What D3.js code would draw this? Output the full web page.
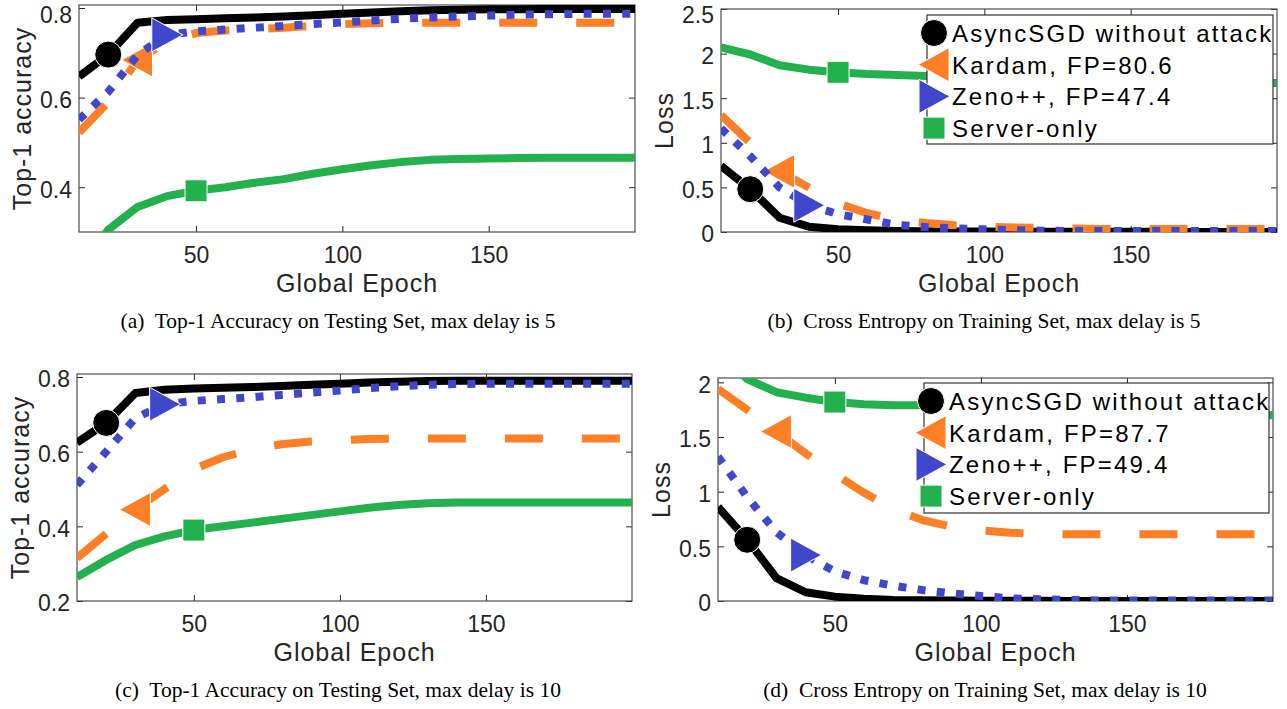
<!DOCTYPE html>
<html>
<head>
<meta charset="utf-8">
<script src="https://cdn.jsdelivr.net/npm/d3@7"></script>
<style>
  body { margin: 0; background: #fff; }
  svg { display: block; }
  .tick text { font-family: "Liberation Sans", Arial, sans-serif; font-size: 23px; fill: #262626; }
  .tick line { stroke: #262626; stroke-width: 1; }
  .axlabel { font-family: "Liberation Sans", Arial, sans-serif; font-size: 25px; fill: #262626; letter-spacing: 1px; }
  .legtext { font-family: "Liberation Sans", Arial, sans-serif; font-size: 24px; fill: #000; letter-spacing: 2.2px; }
  .caption { font-family: "Liberation Serif", "Times New Roman", serif; font-size: 21.5px; fill: #000; }
</style>
</head>
<body>
<svg width="1287" height="709"></svg>
<script>
// global epochs (x values)
var epochs = [10, 20, 30, 40, 50, 60, 70, 80, 90, 100, 110, 120, 130, 140, 150, 160, 170, 180, 190, 200];
var xTicks = [50, 100, 150];

// (a) top-1 accuracy, max delay 5
var accAsync5  = [0.647, 0.696, 0.767, 0.773, 0.775, 0.777, 0.779, 0.781, 0.784, 0.787, 0.790, 0.793, 0.795, 0.796, 0.797, 0.797, 0.798, 0.798, 0.798, 0.798];
var accKardam5 = [0.522, 0.590, 0.684, 0.725, 0.744, 0.750, 0.753, 0.756, 0.760, 0.764, 0.766, 0.767, 0.767, 0.767, 0.767, 0.767, 0.767, 0.767, 0.767, 0.767];
var accZeno5   = [0.551, 0.613, 0.695, 0.740, 0.748, 0.752, 0.756, 0.760, 0.764, 0.768, 0.772, 0.776, 0.779, 0.781, 0.783, 0.785, 0.786, 0.787, 0.787, 0.787];
var accServer5 = [0.22, 0.305, 0.356, 0.380, 0.392, 0.400, 0.410, 0.418, 0.430, 0.440, 0.449, 0.456, 0.461, 0.463, 0.464, 0.465, 0.466, 0.466, 0.466, 0.466];

// (b) cross entropy, max delay 5
var lossAsync5  = [0.74, 0.48, 0.16, 0.06, 0.03, 0.02, 0.012, 0.008, 0.006, 0.005, 0.004, 0.003, 0.003, 0.002, 0.002, 0.002, 0.001, 0.001, 0.001, 0.001];
var lossKardam5 = [1.31, 1.00, 0.68, 0.50, 0.32, 0.21, 0.14, 0.10, 0.075, 0.06, 0.05, 0.045, 0.04, 0.035, 0.035, 0.035, 0.035, 0.035, 0.035, 0.035];
var lossZeno5   = [1.16, 0.85, 0.50, 0.30, 0.20, 0.14, 0.08, 0.055, 0.04, 0.03, 0.02, 0.015, 0.01, 0.01, 0.01, 0.01, 0.01, 0.01, 0.01, 0.01];
var lossServer5 = [2.07, 1.99, 1.87, 1.82, 1.79, 1.77, 1.76, 1.75, 1.74, 1.73, 1.72, 1.71, 1.70, 1.70, 1.69, 1.69, 1.68, 1.68, 1.67, 1.67];

// (c) top-1 accuracy, max delay 10
var accAsync10  = [0.624, 0.677, 0.757, 0.766, 0.769, 0.771, 0.773, 0.776, 0.779, 0.782, 0.785, 0.787, 0.789, 0.790, 0.790, 0.790, 0.790, 0.790, 0.790, 0.790];
var accKardam10 = [0.315, 0.380, 0.445, 0.500, 0.553, 0.585, 0.606, 0.620, 0.627, 0.631, 0.634, 0.635, 0.635, 0.635, 0.635, 0.635, 0.635, 0.635, 0.635, 0.635];
var accZeno10   = [0.511, 0.600, 0.690, 0.727, 0.736, 0.741, 0.746, 0.752, 0.758, 0.764, 0.770, 0.775, 0.779, 0.781, 0.782, 0.782, 0.782, 0.782, 0.782, 0.782];
var accServer10 = [0.264, 0.310, 0.350, 0.373, 0.390, 0.400, 0.410, 0.420, 0.430, 0.440, 0.450, 0.457, 0.462, 0.464, 0.464, 0.464, 0.464, 0.464, 0.464, 0.464];

// (d) cross entropy, max delay 10
var lossAsync10  = [0.86, 0.56, 0.21, 0.08, 0.04, 0.02, 0.01, 0.006, 0.004, 0.003, 0.002, 0.002, 0.001, 0.001, 0.001, 0.001, 0.001, 0.001, 0.001, 0.001];
var lossKardam10 = [1.94, 1.75, 1.55, 1.35, 1.16, 0.99, 0.84, 0.74, 0.68, 0.645, 0.625, 0.615, 0.61, 0.61, 0.61, 0.61, 0.61, 0.61, 0.61, 0.61];
var lossZeno10   = [1.32, 0.95, 0.63, 0.42, 0.27, 0.19, 0.14, 0.10, 0.07, 0.045, 0.025, 0.015, 0.01, 0.005, 0.005, 0.005, 0.005, 0.005, 0.005, 0.005];
var lossServer10 = [2.30, 2.03, 1.91, 1.86, 1.82, 1.80, 1.79, 1.79, 1.78, 1.77, 1.76, 1.75, 1.74, 1.73, 1.73, 1.72, 1.72, 1.71, 1.71, 1.70];

var accTicks5 = [0.4, 0.6, 0.8];
var accTicks10 = [0.2, 0.4, 0.6, 0.8];
var lossTicks5 = [0, 0.5, 1, 1.5, 2, 2.5];
var lossTicks10 = [0, 0.5, 1, 1.5, 2];

var legend5 = ["AsyncSGD without attack", "Kardam, FP=80.6", "Zeno++, FP=47.4", "Server-only"];
var legend10 = ["AsyncSGD without attack", "Kardam, FP=87.7", "Zeno++, FP=49.4", "Server-only"];

var captions = [
    "(a)  Top-1 Accuracy on Testing Set, max delay is 5",
    "(b)  Cross Entropy on Training Set, max delay is 5",
    "(c)  Top-1 Accuracy on Testing Set, max delay is 10",
    "(d)  Cross Entropy on Training Set, max delay is 10"
];

// line styles: black solid, orange dashed, blue dotted, green solid
var styles = [
    { color: "#000000", dash: null, marker: "circle", at: 1 },
    { color: "#ff7f27", dash: "38,39", marker: "left", at: 2 },
    { color: "#3f48cc", dash: "8,11.3", marker: "right", at: 3 },
    { color: "#22b14c", dash: null, marker: "square", at: 4 }
];

var svg = d3.select("svg");

function markerPath(type) {
    if (type == "circle") return d3.symbol().type(d3.symbolCircle).size(Math.PI * 13.5 * 13.5)();
    if (type == "square") return "M-11,-11H11V11H-11Z";
    if (type == "left") return "M-16,0L15,-17L15,17Z";
    return "M16,0L-15,-17L-15,17Z";
}

function drawPanel(id, box, yDomain, yTicks, series, yLabel, legendLabels, legendBox) {
    var x = d3.scaleLinear().domain([10, 200]).range([box.left, box.right]);
    var y = d3.scaleLinear().domain(yDomain).range([box.bottom, box.top]);
    var g = svg.append("g");

    g.append("clipPath").attr("id", "clip" + id)
        .append("rect")
        .attr("x", box.left).attr("y", box.top)
        .attr("width", box.right - box.left).attr("height", box.bottom - box.top);

    //axes with inward ticks on all four sides
    var xb = g.append("g").attr("transform", "translate(0," + box.bottom + ")")
        .call(d3.axisBottom(x).tickValues(xTicks).tickSizeInner(-6).tickSizeOuter(0).tickPadding(15));
    var xt = g.append("g").attr("transform", "translate(0," + box.top + ")")
        .call(d3.axisTop(x).tickValues(xTicks).tickSizeInner(-6).tickSizeOuter(0).tickFormat(""));
    var yl = g.append("g").attr("transform", "translate(" + box.left + ",0)")
        .call(d3.axisLeft(y).tickValues(yTicks).tickSizeInner(-6).tickSizeOuter(0).tickPadding(7).tickFormat(d3.format("~g")));
    var yr = g.append("g").attr("transform", "translate(" + box.right + ",0)")
        .call(d3.axisRight(y).tickValues(yTicks).tickSizeInner(-6).tickSizeOuter(0).tickFormat(""));
    [xb, xt, yl, yr].forEach(function (a) { a.select(".domain").remove(); a.attr("font-size", null).attr("font-family", null); });
    //keep the top label inside the page
    yl.selectAll(".tick text").attr("dy", function (d) { return y(d) < 14 ? (22 - y(d)) + "px" : "0.43em"; });

    g.append("rect")
        .attr("x", box.left).attr("y", box.top)
        .attr("width", box.right - box.left).attr("height", box.bottom - box.top)
        .attr("fill", "none").attr("stroke", "#4d4d4d").attr("stroke-width", 1.2);

    var line = d3.line()
        .x(function (d, i) { return x(epochs[i]); })
        .y(function (d) { return y(d); });

    var plot = g.append("g").attr("clip-path", "url(#clip" + id + ")");
    series.forEach(function (s, k) {
        var st = styles[k];
        plot.append("path")
            .datum(s)
            .attr("d", line)
            .attr("fill", "none")
            .attr("stroke", st.color)
            .attr("stroke-width", 8)
            .attr("stroke-linejoin", "round")
            .attr("stroke-dasharray", st.dash);
        plot.append("path")
            .attr("d", markerPath(st.marker))
            .attr("transform", "translate(" + x(epochs[st.at]) + "," + y(s[st.at]) + ")")
            .attr("fill", st.color)
            .attr("stroke", "#fff")
            .attr("stroke-width", 1);
    });

    g.append("text")
        .attr("class", "axlabel")
        .attr("text-anchor", "middle")
        .attr("x", (box.left + box.right) / 2)
        .attr("y", box.bottom + 60)
        .text("Global Epoch");

    g.append("text")
        .attr("class", "axlabel")
        .attr("text-anchor", "middle")
        .attr("transform", "translate(" + (box.left - 48) + "," + ((box.top + box.bottom) / 2) + ")rotate(-90)")
        .text(yLabel);

    if (legendLabels) {
        var lg = g.append("g");
        lg.append("rect")
            .attr("x", legendBox.left).attr("y", legendBox.top)
            .attr("width", legendBox.right - legendBox.left).attr("height", legendBox.bottom - legendBox.top)
            .attr("fill", "#fff").attr("stroke", "#333").attr("stroke-width", 1.2);
        legendLabels.forEach(function (lab, k) {
            var cy = legendBox.top + 18 + k * 31.7;
            lg.append("path")
                .attr("d", markerPath(styles[k].marker))
                .attr("transform", "translate(" + (legendBox.left + 7) + "," + cy + ")")
                .attr("fill", styles[k].color)
                .attr("stroke", "#fff").attr("stroke-width", 1);
            lg.append("text")
                .attr("class", "legtext")
                .attr("x", legendBox.left + 25)
                .attr("y", cy + 9)
                .text(lab);
        });
    }
}

drawPanel("a", { left: 79, top: 5, right: 635, bottom: 232 }, [0.3, 0.8067], accTicks5,
    [accAsync5, accKardam5, accZeno5, accServer5], "Top-1 accuracy", null, null);
drawPanel("b", { left: 721, top: 9, right: 1277, bottom: 232 }, [0, 2.5], lossTicks5,
    [lossAsync5, lossKardam5, lossZeno5, lossServer5], "Loss", legend5,
    { left: 927, top: 15, right: 1273, bottom: 144 });
drawPanel("c", { left: 77, top: 374, right: 632, bottom: 601 }, [0.2, 0.808], accTicks10,
    [accAsync10, accKardam10, accZeno10, accServer10], "Top-1 accuracy", null, null);
drawPanel("d", { left: 718, top: 378, right: 1273, bottom: 601 }, [0, 2.04], lossTicks10,
    [lossAsync10, lossKardam10, lossZeno10, lossServer10], "Loss", legend10,
    { left: 924, top: 383, right: 1269, bottom: 513 });

//captions under each panel
var capPos = [[338, 328], [984, 328], [338, 697], [985, 697]];
captions.forEach(function (c, i) {
    svg.append("text")
        .attr("class", "caption")
        .attr("text-anchor", "middle")
        .attr("x", capPos[i][0])
        .attr("y", capPos[i][1])
        .attr("xml:space", "preserve")
        .text(c);
});
</script>
</body>
</html>
